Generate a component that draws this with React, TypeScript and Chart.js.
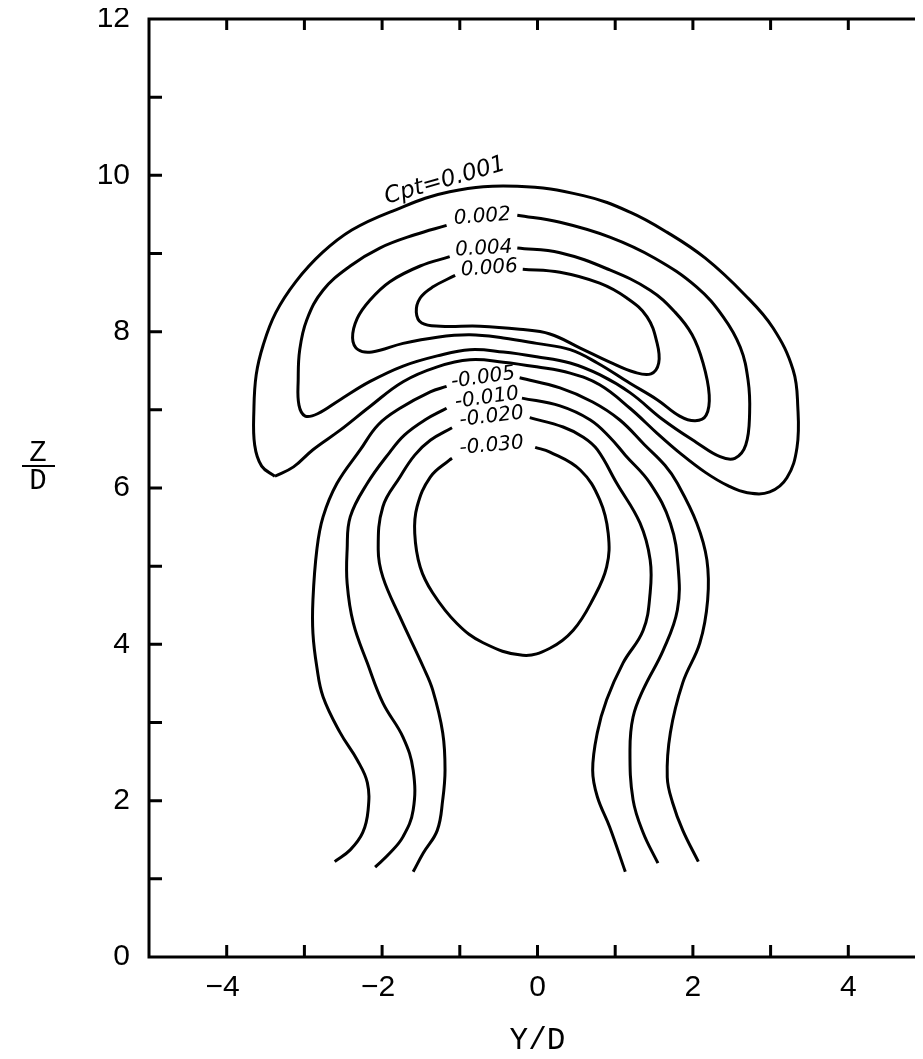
import React, { useEffect, useRef } from "react";
import { Chart, registerables } from "chart.js";

Chart.register(...registerables);

type P = [number, number];

// Axis ticks and labels
const X_TICK_VALUES = [-4, -2, 0, 2, 4];
const X_TICK_LABELS = ["\u22124", "\u22122", "0", "2", "4"];
const Y_TICK_VALUES = [0, 2, 4, 6, 8, 10, 12];
const Y_TICK_LABELS = ["0", "2", "4", "6", "8", "10", "12"];
const X_MINOR = [-4, -3, -2, -1, 0, 1, 2, 3, 4];
const Y_MINOR = [1, 2, 3, 4, 5, 6, 7, 8, 9, 10, 11];
const X_TITLE = "Y/D";
const Y_TITLE_TOP = "Z";
const Y_TITLE_BOTTOM = "D";

// Contour Cpt = 0.001 (closed)
const cpt001: P[] = [
  [-3.38, 6.15], [-3.55, 6.28], [-3.64, 6.55], [-3.65, 7.0], [-3.62, 7.45],
  [-3.53, 7.83], [-3.37, 8.24], [-3.11, 8.64], [-2.77, 9.01], [-2.39, 9.3],
  [-1.9, 9.53], [-1.13, 9.79], [-0.26, 9.86], [0.59, 9.74], [1.19, 9.53],
  [1.67, 9.27], [2.16, 8.94], [2.67, 8.47], [3.03, 8.05], [3.29, 7.51],
  [3.35, 7.04], [3.34, 6.52], [3.21, 6.13], [2.99, 5.95], [2.7, 5.94],
  [2.45, 6.03], [2.16, 6.2], [1.83, 6.45], [1.54, 6.7], [1.19, 7.02],
  [0.8, 7.32], [0.42, 7.47], [-0.01, 7.55], [-0.44, 7.61], [-0.87, 7.64],
  [-1.29, 7.55], [-1.73, 7.36], [-2.16, 7.04], [-2.54, 6.74], [-2.89, 6.49],
  [-3.14, 6.27], [-3.38, 6.15],
];

// Contour 0.002 (gap at label)
const cpt002: P[] = [
  [-0.26, 9.49], [0.29, 9.4], [0.93, 9.21], [1.51, 8.94], [2.05, 8.57],
  [2.39, 8.19], [2.61, 7.8], [2.71, 7.38], [2.73, 6.96], [2.68, 6.55],
  [2.54, 6.38], [2.35, 6.4], [2.05, 6.58], [1.62, 6.87], [1.19, 7.22],
  [0.8, 7.45], [0.42, 7.6], [-0.01, 7.68], [-0.44, 7.74], [-0.87, 7.77],
  [-1.29, 7.69], [-1.73, 7.56], [-2.16, 7.36], [-2.54, 7.13], [-2.83, 6.95],
  [-2.99, 6.92], [-3.07, 7.06], [-3.08, 7.38], [-3.06, 7.77], [-2.97, 8.15],
  [-2.76, 8.53], [-2.41, 8.84], [-2.03, 9.07], [-1.58, 9.24], [-1.17, 9.36],
];

// Contour 0.004
const cpt004: P[] = [
  [-0.26, 9.07], [0.29, 9.01], [0.93, 8.79], [1.45, 8.53], [1.77, 8.25],
  [1.99, 7.96], [2.13, 7.6], [2.21, 7.19], [2.17, 6.93], [2.03, 6.86],
  [1.83, 6.92], [1.54, 7.13], [1.19, 7.34], [0.77, 7.6], [0.42, 7.77],
  [-0.01, 7.85], [-0.44, 7.92], [-0.87, 7.96], [-1.29, 7.93], [-1.73, 7.85],
  [-2.13, 7.74], [-2.31, 7.77], [-2.38, 7.92], [-2.32, 8.17], [-2.16, 8.4],
  [-1.9, 8.64], [-1.51, 8.84], [-1.13, 8.96],
];

// Contour 0.006
const cpt006: P[] = [
  [-0.19, 8.8], [0.29, 8.76], [0.8, 8.62], [1.15, 8.43], [1.41, 8.19],
  [1.54, 7.85], [1.56, 7.6], [1.46, 7.46], [1.25, 7.48], [0.93, 7.61],
  [0.55, 7.79], [0.16, 7.97], [-0.23, 8.03], [-0.74, 8.07], [-1.25, 8.07],
  [-1.49, 8.11], [-1.56, 8.25], [-1.51, 8.43], [-1.35, 8.57], [-1.06, 8.72],
];

// Contour -0.005
const neg005Left: P[] = [
  [-2.61, 1.22], [-2.41, 1.37], [-2.25, 1.59], [-2.18, 1.88], [-2.19, 2.23],
  [-2.32, 2.52], [-2.54, 2.87], [-2.76, 3.33], [-2.84, 3.71], [-2.89, 4.14],
  [-2.89, 4.57], [-2.84, 5.21], [-2.76, 5.63], [-2.58, 6.06], [-2.28, 6.49],
  [-2.05, 6.81], [-1.77, 7.02], [-1.38, 7.23], [-1.17, 7.3],
];
const neg005Right: P[] = [
  [-0.23, 7.41], [0.29, 7.28], [0.71, 7.1], [1.06, 6.87], [1.38, 6.55],
  [1.64, 6.29], [1.8, 6.06], [2.05, 5.55], [2.18, 5.08], [2.19, 4.57],
  [2.09, 4.02], [1.87, 3.51], [1.71, 2.87], [1.67, 2.3], [1.74, 1.97],
  [1.87, 1.62], [2.07, 1.22],
];

// Contour -0.010
const neg010Left: P[] = [
  [-2.09, 1.15], [-1.9, 1.33], [-1.73, 1.54], [-1.6, 1.88], [-1.6, 2.39],
  [-1.73, 2.81], [-1.99, 3.25], [-2.19, 3.76], [-2.37, 4.27], [-2.45, 4.78],
  [-2.45, 5.21], [-2.41, 5.63], [-2.19, 6.06], [-1.9, 6.46], [-1.71, 6.68],
  [-1.45, 6.87], [-1.17, 7.02],
];
const neg010Right: P[] = [
  [-0.2, 7.15], [0.29, 7.05], [0.68, 6.87], [0.93, 6.65], [1.13, 6.42],
  [1.45, 6.06], [1.71, 5.55], [1.81, 4.99], [1.8, 4.44], [1.62, 3.93],
  [1.36, 3.42], [1.23, 3.07], [1.19, 2.65], [1.23, 2.01], [1.36, 1.59],
  [1.55, 1.2],
];

// Contour -0.020
const neg020Left: P[] = [
  [-1.6, 1.09], [-1.47, 1.33], [-1.29, 1.62], [-1.22, 2.01], [-1.19, 2.39],
  [-1.22, 2.87], [-1.35, 3.42], [-1.47, 3.71], [-1.77, 4.35], [-1.99, 4.86],
  [-2.05, 5.21], [-1.99, 5.76], [-1.77, 6.14], [-1.58, 6.42], [-1.38, 6.61],
  [-1.1, 6.77],
];
const neg020Right: P[] = [
  [-0.1, 6.9], [0.33, 6.78], [0.59, 6.65], [0.77, 6.49], [1.02, 6.06],
  [1.32, 5.55], [1.45, 5.08], [1.45, 4.66], [1.36, 4.18], [1.1, 3.76],
  [0.89, 3.29], [0.77, 2.87], [0.71, 2.39], [0.77, 2.05], [0.93, 1.66],
  [1.13, 1.09],
];

// Contour -0.030 (closed except for label gap)
const neg030: P[] = [
  [-0.03, 6.52], [0.16, 6.46], [0.55, 6.23], [0.8, 5.85], [0.91, 5.42],
  [0.89, 4.99], [0.71, 4.57], [0.46, 4.18], [0.16, 3.95], [-0.19, 3.86],
  [-0.7, 4.02], [-1.04, 4.27], [-1.35, 4.66], [-1.51, 4.99], [-1.58, 5.42],
  [-1.55, 5.76], [-1.38, 6.14], [-1.13, 6.36], [-1.1, 6.38],
];

const CONTOURS: P[][] = [
  cpt001, cpt002, cpt004, cpt006,
  neg005Left, neg005Right, neg010Left, neg010Right,
  neg020Left, neg020Right, neg030,
];

// Contour labels
const LABEL_TEXT = ["Cpt=0.001", "0.002", "0.004", "0.006", "-0.005", "-0.010", "-0.020", "-0.030"];
const LABEL_X = [-1.19, -0.71, -0.69, -0.62, -0.7, -0.65, -0.59, -0.59];
const LABEL_Y = [9.93, 9.47, 9.06, 8.81, 7.41, 7.15, 6.91, 6.54];
const LABEL_ANGLE = [-16, -4, -3, -4, -8, -8, -7, -5];

const MONO = "'Liberation Mono', 'DejaVu Sans Mono', monospace";
const DIGITS = "'Liberation Sans', 'DejaVu Sans', sans-serif";

export default function App() {
  const ref = useRef<HTMLCanvasElement>(null);

  useEffect(() => {
    document.documentElement.style.overflow = "hidden";
    const canvas = ref.current;
    if (!canvas) return;

    const framePlugin = {
      id: "framePlugin",
      afterDraw(chart: any) {
        const { ctx, chartArea: a, scales } = chart;
        const xs = scales.x;
        const ys = scales.y;
        ctx.save();
        ctx.strokeStyle = "#000";
        ctx.fillStyle = "#000";
        ctx.lineWidth = 3;
        ctx.strokeRect(a.left, a.top, a.right - a.left, a.bottom - a.top);

        ctx.beginPath();
        X_MINOR.forEach((v) => {
          const px = xs.getPixelForValue(v);
          ctx.moveTo(px, a.bottom);
          ctx.lineTo(px, a.bottom - 12);
          ctx.moveTo(px, a.top);
          ctx.lineTo(px, a.top + 11);
        });
        Y_MINOR.forEach((v) => {
          const py = ys.getPixelForValue(v);
          ctx.moveTo(a.left, py);
          ctx.lineTo(a.left + 13, py);
          ctx.moveTo(a.right, py);
          ctx.lineTo(a.right - 11, py);
        });
        ctx.stroke();

        ctx.font = "30px " + DIGITS;
        ctx.textBaseline = "middle";
        ctx.textAlign = "center";
        X_TICK_VALUES.forEach((v, i) => {
          const off = v < 0 ? -4 : 0;
          ctx.fillText(X_TICK_LABELS[i], xs.getPixelForValue(v) + off, a.bottom + 31);
        });
        ctx.textAlign = "right";
        Y_TICK_VALUES.forEach((v, i) => {
          ctx.fillText(Y_TICK_LABELS[i], a.left - 19, ys.getPixelForValue(v));
        });

        ctx.textAlign = "center";
        ctx.font = "31px " + MONO;
        ctx.fillText(X_TITLE, (a.left + a.right) / 2, 1033);

        ctx.font = "29px " + MONO;
        ctx.fillText(Y_TITLE_TOP, 30, 445);
        ctx.fillText(Y_TITLE_BOTTOM, 30, 473);
        ctx.lineWidth = 2;
        ctx.beginPath();
        ctx.moveTo(14, 458);
        ctx.lineTo(47, 458);
        ctx.stroke();

        LABEL_TEXT.forEach((t, i) => {
          const px = xs.getPixelForValue(LABEL_X[i]);
          const py = ys.getPixelForValue(LABEL_Y[i]);
          ctx.save();
          ctx.translate(px, py);
          ctx.rotate((LABEL_ANGLE[i] * Math.PI) / 180);
          ctx.font = (i === 0 ? "italic 23px " : "italic 20px ") + "'DejaVu Sans', sans-serif";
          ctx.textAlign = "center";
          ctx.textBaseline = "middle";
          ctx.fillText(t, 0, 0);
          ctx.restore();
        });
        ctx.restore();
      },
    };

    const chart = new Chart(canvas, {
      type: "scatter",
      data: {
        datasets: CONTOURS.map((pts) => ({
          data: pts.map(([x, y]) => ({ x, y })),
          showLine: true,
          borderColor: "#000",
          borderWidth: 3,
          pointRadius: 0,
          pointHoverRadius: 0,
          fill: false,
          tension: 0.4,
        })),
      },
      options: {
        animation: false,
        responsive: false,
        devicePixelRatio: 1,
        events: [],
        layout: { padding: { left: 141, top: 11, right: 16, bottom: 94 } },
        plugins: { legend: { display: false }, tooltip: { enabled: false } },
        scales: {
          x: { type: "linear", min: -5, max: 5, display: false },
          y: { type: "linear", min: 0, max: 12, display: false },
        },
      },
      plugins: [framePlugin],
    } as any);

    return () => chart.destroy();
  }, []);

  return (
    <div style={{ width: 915, height: 1043, overflow: "hidden" }}>
      <canvas ref={ref} width={934} height={1043} style={{ display: "block", width: 934, height: 1043 }} />
    </div>
  );
}
